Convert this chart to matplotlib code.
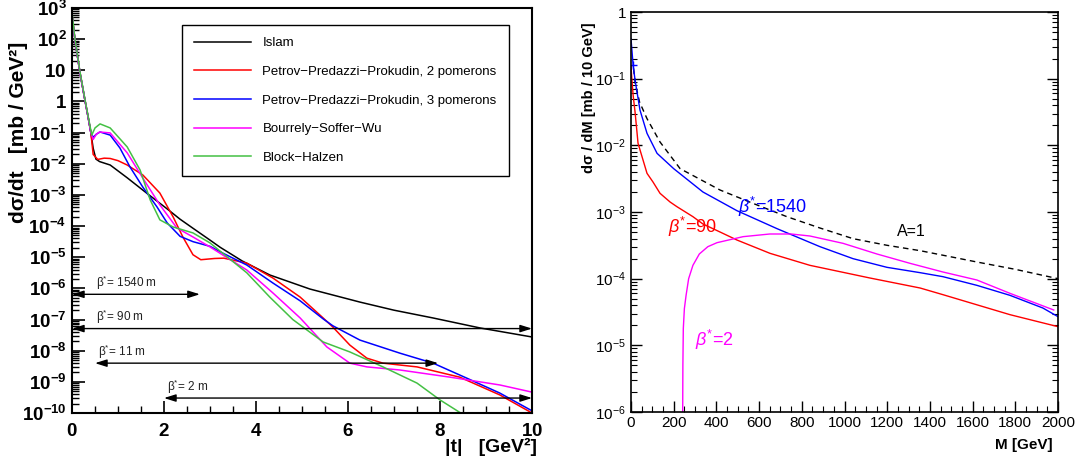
import numpy as np
import matplotlib
matplotlib.use("Agg")
import matplotlib.pyplot as plt
from matplotlib.ticker import FixedLocator, MultipleLocator, LogLocator, NullFormatter

plt.rcParams['font.family'] = ['Liberation Sans', 'DejaVu Sans']
plt.rcParams['mathtext.fontset'] = 'custom'
plt.rcParams['mathtext.rm'] = 'Liberation Sans'
plt.rcParams['mathtext.it'] = 'Liberation Sans:italic'
plt.rcParams['mathtext.bf'] = 'Liberation Sans:bold'

# ---- left panel: d sigma / dt, values are log10(mb/GeV^2) ----
islam_t = [0, 0.065, 0.17, 0.28, 0.35, 0.41, 0.46, 0.52, 0.6, 0.83, 1.2, 1.63, 2.07, 2.35, 2.63, 3.0,
           3.22, 3.7, 4.3, 5.17, 6.26, 7.0, 7.85, 8.87, 10]
islam_y = [2.78, 1.97, 0.95, 0.05, -0.5, -1.0, -1.5, -1.85, -1.93, -2.04, -2.45, -2.95, -3.45, -3.78, -4.07, -4.45,
           -4.68, -5.12, -5.57, -6.02, -6.44, -6.7, -6.95, -7.27, -7.56]

ppp2_t = [0, 0.065, 0.17, 0.28, 0.35, 0.41, 0.46, 0.56, 0.7, 0.83, 1.0, 1.2, 1.54, 1.91, 2.2, 2.41, 2.63, 2.8,
          3.1, 3.3, 3.8, 4.37, 4.96, 5.46, 5.67, 6.04, 6.41, 6.76, 7.5, 8.43, 9.3, 10]
ppp2_y = [2.78, 1.97, 0.95, 0.05, -0.5, -1.0, -1.7, -1.86, -1.82, -1.83, -1.9, -2.04, -2.36, -2.94, -3.71, -4.35,
          -4.92, -5.08, -5.04, -5.03, -5.19, -5.67, -6.28, -6.95, -7.24, -7.82, -8.24, -8.4, -8.52, -8.85, -9.42, -10.0]

ppp3_t = [0, 0.065, 0.17, 0.28, 0.35, 0.41, 0.46, 0.53, 0.61, 0.83, 1.04, 1.26, 1.54, 1.85, 2.07, 2.35, 2.63,
          3.0, 3.28, 3.8, 4.37, 4.96, 5.46, 5.67, 6.26, 7.13, 7.85, 8.58, 9.3, 10]
ppp3_y = [2.78, 1.97, 0.95, 0.05, -0.5, -1.0, -1.15, -1.05, -0.98, -1.08, -1.49, -2.1, -2.75, -3.39, -3.9, -4.33,
          -4.5, -4.65, -4.87, -5.25, -5.83, -6.4, -6.98, -7.2, -7.66, -8.08, -8.4, -8.88, -9.36, -9.93]

bsw_t = [0, 0.065, 0.17, 0.28, 0.35, 0.41, 0.46, 0.53, 0.6, 0.83, 1.2, 1.54, 1.91, 2.28, 2.63, 3.0, 3.28, 3.8,
         4.37, 4.96, 5.54, 6.04, 6.41, 7.13, 8.22, 9.3, 10]
bsw_y = [2.78, 1.97, 0.95, 0.05, -0.5, -1.0, -1.22, -1.05, -0.98, -1.01, -1.65, -2.46, -3.32, -4.06, -4.35, -4.67,
         -4.93, -5.41, -6.15, -6.95, -7.88, -8.4, -8.52, -8.62, -8.85, -9.1, -9.33]

bh_t = [0, 0.065, 0.17, 0.28, 0.35, 0.43, 0.5, 0.61, 0.83, 1.2, 1.48, 1.7, 1.91, 2.2, 2.63, 3.0, 3.8, 4.3, 4.8,
        5.46, 6.04, 6.76, 7.5, 8.0, 8.45]
bh_y = [2.85, 2.0, 0.98, 0.08, -0.47, -1.08, -0.85, -0.72, -0.85, -1.46, -2.2, -3.16, -3.8, -4.03, -4.22, -4.54,
        -5.5, -6.28, -7.0, -7.72, -8.04, -8.52, -9.04, -9.58, -10.0]

legend_labels = ['Islam', 'Petrov\u2212Predazzi\u2212Prokudin, 2 pomerons',
                 'Petrov\u2212Predazzi\u2212Prokudin, 3 pomerons', 'Bourrely\u2212Soffer\u2212Wu', 'Block\u2212Halzen']

beta_text = ['1540 m', '90 m', '11 m', '2 m']
beta_tmin = [0.0, 0.0, 0.5, 2.0]
beta_tmax = [2.78, 10.0, 7.96, 10.0]
beta_level = [-6.19, -7.29, -8.4, -9.52]

# ---- right panel: d sigma / dM, values are log10(mb / 10 GeV) ----
a1_M = [12, 20, 40, 75, 136, 230, 417, 571, 730, 885, 1040, 1200, 1354, 1620, 1800, 2000]
a1_y = [-0.85, -1.07, -1.35, -1.6, -1.95, -2.35, -2.67, -2.87, -3.07, -3.24, -3.4, -3.5, -3.58, -3.75, -3.86, -4.0]

b1540_M = [0, 5, 10, 19, 42, 75, 122, 200, 337, 496, 684, 885, 1040, 1199, 1354, 1461, 1620, 1775, 1929, 2000]
b1540_y = [-0.4, -0.6, -0.8, -1.02, -1.47, -1.82, -2.12, -2.35, -2.7, -2.98, -3.25, -3.52, -3.7, -3.83, -3.91,
           -3.97, -4.1, -4.25, -4.44, -4.57]

b90_M = [0, 5, 10, 19, 33, 75, 103, 136, 183, 215, 290, 337, 417, 496, 651, 838, 1119, 1354, 1461, 1775, 2000]
b90_y = [-0.82, -1.05, -1.25, -1.5, -1.97, -2.42, -2.55, -2.72, -2.85, -2.92, -3.07, -3.18, -3.3, -3.42, -3.62,
         -3.8, -3.99, -4.14, -4.24, -4.54, -4.72]

b2_M = [242, 243, 245, 250, 258, 270, 290, 320, 360, 403, 525, 650, 750, 838, 993, 1152, 1307, 1461, 1620, 1775, 1980]
b2_y = [-6.1, -5.3, -4.75, -4.45, -4.25, -4.0, -3.8, -3.63, -3.52, -3.46, -3.37, -3.33, -3.33, -3.36, -3.47, -3.63,
        -3.77, -3.9, -4.02, -4.22, -4.47]

fig = plt.figure(figsize=(10.76, 4.62), dpi=100)
ax = fig.add_axes([72 / 1076, 1 - 413 / 462, 460 / 1076, 405 / 462])
ax2 = fig.add_axes([631 / 1076, 1 - 412 / 462, 427 / 1076, 400 / 462])

series = [(islam_t, islam_y, 'black'), (ppp2_t, ppp2_y, '#ff0000'), (ppp3_t, ppp3_y, '#0000ff'),
          (bsw_t, bsw_y, '#ff00ff'), (bh_t, bh_y, '#44c044')]
for (t, y, c), lab in zip(series, legend_labels):
    ax.plot(t, np.power(10.0, y), color=c, lw=1.1, label=lab)

for txt, t0, t1, lv in zip(beta_text, beta_tmin, beta_tmax, beta_level):
    ax.annotate('', xy=(t1, 10 ** lv), xytext=(t0, 10 ** lv),
                arrowprops=dict(arrowstyle='<|-|>,head_length=0.7,head_width=0.22', color='black',
                                lw=1.0, shrinkA=0, shrinkB=0, mutation_scale=10), annotation_clip=False)
    ax.text(0.52 if t0 < 0.4 else t0 + 0.06, 10 ** (lv + 0.37), '\u03b2$^{*}$= ' + txt,
            fontsize=8.5, color='#222222', va='center', ha='left')

ax.set_yscale('log')
ax.set_xlim(0, 10)
ax.set_ylim(1e-10, 1e3)
ax.xaxis.set_major_locator(MultipleLocator(2))
ax.xaxis.set_minor_locator(MultipleLocator(0.5))
ax.set_xticklabels([r'$\mathbf{%d}$' % v for v in ax.get_xticks()])
ydec = list(range(-10, 4))
ax.yaxis.set_major_locator(FixedLocator([10.0 ** d for d in ydec]))
ax.yaxis.set_minor_locator(LogLocator(base=10, subs=np.arange(2, 10), numticks=30))
ax.yaxis.set_minor_formatter(NullFormatter())
ylabs = []
for d in ydec:
    if d == 0:
        ylabs.append(r'$\mathbf{1}$')
    elif d == 1:
        ylabs.append(r'$\mathbf{10}$')
    else:
        ylabs.append(r'$\mathbf{10^{%d}}$' % d)
ax.set_yticklabels(ylabs)
ax.tick_params(axis='both', which='both', direction='in', top=False, right=False, labelsize=13.5)
ax.tick_params(axis='both', which='major', length=9, width=1.2)
ax.tick_params(axis='both', which='minor', length=5, width=1.0)
ax.tick_params(axis='x', pad=7)
ax.tick_params(axis='y', pad=4)
for s in ax.spines.values():
    s.set_linewidth(1.5)

leg = ax.legend(loc='upper left', bbox_to_anchor=(0.239, 0.595, 0.711, 0.363), mode='expand',
                fontsize=9.5, frameon=True, fancybox=False, edgecolor='black', framealpha=1,
                handlelength=4.3, handletextpad=0.9, labelspacing=1.25, borderpad=0.9, borderaxespad=0)
leg.get_frame().set_linewidth(1.0)

fig.text(19 / 1076, 1 - 132 / 462, 'd\u03c3/dt   [mb / GeV\u00b2]', rotation=90, ha='center', va='center',
         fontsize=15, fontweight='bold')
fig.text(537 / 1076, 1 - 447 / 462, '|t|   [GeV\u00b2]', ha='right', va='center', fontsize=14, fontweight='bold')

# right panel
ax2.plot(a1_M, np.power(10.0, a1_y), color='black', lw=1.0, ls=(0, (4, 3)))
ax2.plot(b1540_M, np.power(10.0, b1540_y), color='#0000ff', lw=1.0)
ax2.plot(b1540_M[2], 10 ** b1540_y[2], marker='+', color='#0000ff', ms=6, mew=1.0)
ax2.plot(b90_M, np.power(10.0, b90_y), color='#ff0000', lw=1.0)
ax2.plot(b2_M, np.power(10.0, b2_y), color='#ff00ff', lw=1.0)

ax2.text(501, 10 ** -2.92, r'$\beta^{*}$=1540', color='#0000ff', fontsize=13, va='center', ha='left')
ax2.text(175, 10 ** -3.22, r'$\beta^{*}$=90', color='#ff0000', fontsize=13, va='center', ha='left')
ax2.text(300, 10 ** -4.92, r'$\beta^{*}$=2', color='#ff00ff', fontsize=13, va='center', ha='left')
ax2.text(1246, 10 ** -3.3, 'A=1', color='black', fontsize=11.5, va='center', ha='left')

ax2.set_yscale('log')
ax2.set_xlim(0, 2000)
ax2.set_ylim(1e-6, 1)
ax2.xaxis.set_major_locator(MultipleLocator(200))
ax2.xaxis.set_minor_locator(MultipleLocator(50))
rdec = list(range(-6, 1))
ax2.yaxis.set_major_locator(FixedLocator([10.0 ** d for d in rdec]))
ax2.yaxis.set_minor_locator(LogLocator(base=10, subs=np.arange(2, 10), numticks=30))
ax2.yaxis.set_minor_formatter(NullFormatter())
ax2.set_yticklabels(['1' if d == 0 else r'$10^{%d}$' % d for d in rdec])
ax2.tick_params(axis='both', which='both', direction='in', top=False, right=True, labelsize=11)
ax2.tick_params(axis='both', which='major', length=8, width=1.0)
ax2.tick_params(axis='both', which='minor', length=4, width=0.8)
ax2.tick_params(axis='x', pad=3)
for s in ax2.spines.values():
    s.set_linewidth(1.2)

fig.text(589 / 1076, 1 - 98 / 462, 'd\u03c3 / dM [mb / 10 GeV]', rotation=90, ha='center', va='center',
         fontsize=10.5, fontweight='bold')
fig.text(1053 / 1076, 1 - 445 / 462, 'M [GeV]', ha='right', va='center', fontsize=11, fontweight='bold')

fig.savefig('out.png', dpi=100)
